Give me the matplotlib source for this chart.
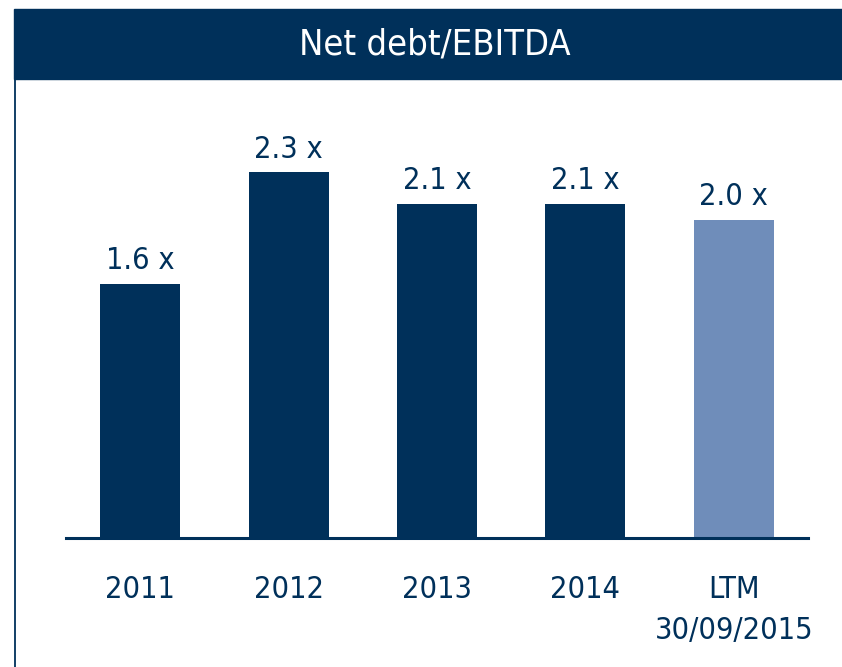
import matplotlib
matplotlib.use('Agg')
from matplotlib import pyplot as plt
from matplotlib.patches import Rectangle
from matplotlib.lines import Line2D

# data
categories = ['2011', '2012', '2013', '2014', 'LTM\n30/09/2015']
values = [1.6, 2.3, 2.1, 2.1, 2.0]
labels = ['1.6 x', '2.3 x', '2.1 x', '2.1 x', '2.0 x']

navy = '#00305A'
light = '#6F8DBA'
colors = [navy, navy, navy, navy, light]

plt.rcParams['font.family'] = ['DejaVu Sans']
plt.rcParams['font.stretch'] = 'condensed'

fig = plt.figure(figsize=(8.42, 6.67), dpi=100)
W, H = 842, 667

# header bar + left frame line
fig.patches.append(Rectangle((14 / W, 1 - 79 / H), 1, 70 / H,
                             transform=fig.transFigure, color=navy, zorder=0))
fig.lines.append(Line2D([15.5 / W, 15.5 / W], [0, 1 - 79 / H],
                        transform=fig.transFigure, color=navy, lw=1.3))
fig.text(435 / W, 1 - 45 / H, 'Net debt/EBITDA', color='white',
         fontsize=26, ha='center', va='center', stretch='condensed')

ax = fig.add_axes([66 / W, 1 - 538 / H, 742 / W, 2.6 * 159 / H])
x = range(len(categories))
ax.bar(x, values, width=0.54, color=colors)
for i, v in enumerate(values):
    ax.text(i, v + 0.055, labels[i], ha='center', va='bottom',
            fontsize=22, color=navy, stretch='condensed')

ax.set_xlim(-0.5, 4.5)
ax.set_ylim(0, 2.6)
ax.set_xticks(list(x))
ax.set_xticklabels(categories, fontsize=22, color=navy, va='top',
                   linespacing=1.5, stretch='condensed')
ax.tick_params(axis='x', length=0, pad=27)
ax.set_yticks([])
for s in ['top', 'right', 'left']:
    ax.spines[s].set_visible(False)
ax.spines['bottom'].set_color(navy)
ax.spines['bottom'].set_linewidth(2.2)
ax.patch.set_alpha(0)

plt.savefig('out.png', dpi=100)
